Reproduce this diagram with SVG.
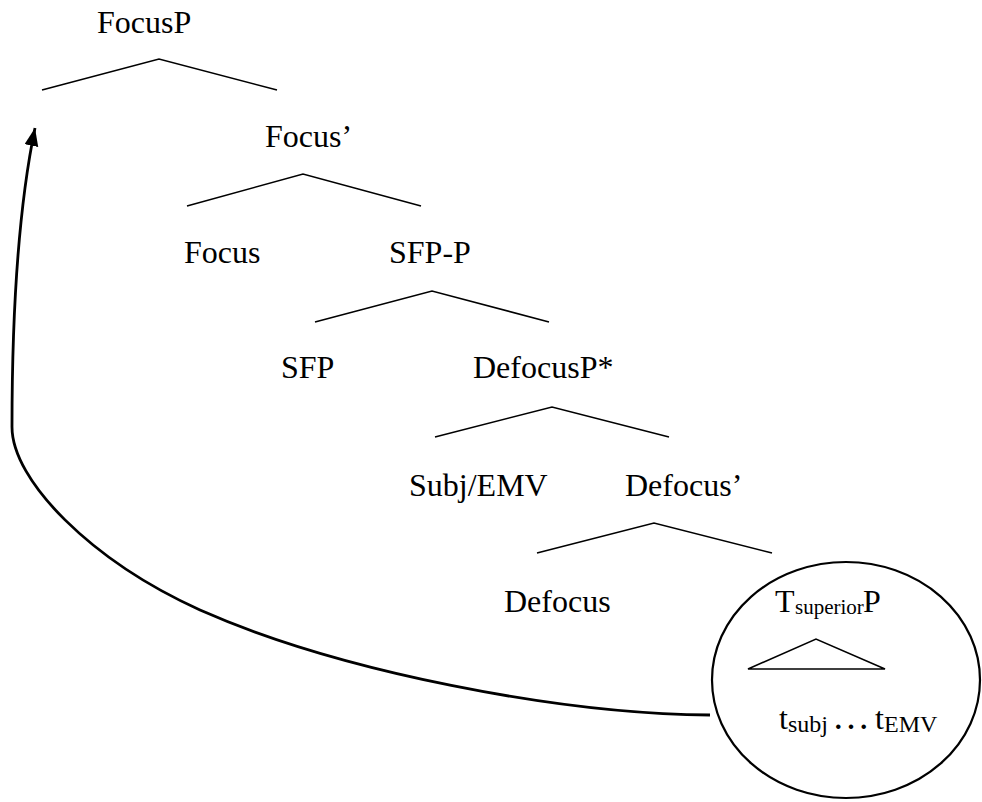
<svg xmlns="http://www.w3.org/2000/svg" width="982" height="802" viewBox="0 0 982 802">
  <style>
    text { font-family: 'Liberation Serif', 'Times New Roman', Times, 'DejaVu Serif', serif; font-size: 32px; fill: #000; }
    .sub { font-size: 21px; }
    .sub2 { font-size: 24px; }
    .dots { font-size: 38px; }
    .branch { fill: none; stroke: #000; stroke-width: 1.6; }
    .move { fill: none; stroke: #000; stroke-width: 2.8; }
    .circle { fill: none; stroke: #000; stroke-width: 2.2; }
  </style>
  <defs>
    <marker id="head" markerUnits="userSpaceOnUse" markerWidth="20" markerHeight="16" refX="18" refY="7" orient="auto">
      <path d="M0,0 L18,7 L0,14 Z" fill="#000"/>
    </marker>
  </defs>
  <rect width="982" height="802" fill="#fff"/>

  <g font-family="Liberation Serif, serif">
  <!-- tree nodes -->
  <g id="focusP">
    <text x="97" y="33">FocusP</text>
    <polyline class="branch" points="42,90 159,59 277,90"/>
  </g>
  <g id="focusBar">
    <text x="265" y="147">Focus’</text>
    <polyline class="branch" points="187,206 303,174 421,206"/>
  </g>
  <g id="focus">
    <text x="184" y="263">Focus</text>
  </g>
  <g id="sfpP">
    <text x="389" y="263">SFP-P</text>
    <polyline class="branch" points="315,322 432,291 549,322"/>
  </g>
  <g id="sfp">
    <text x="281" y="378">SFP</text>
  </g>
  <g id="defocusP">
    <text x="473" y="378">DefocusP*</text>
    <polyline class="branch" points="435,437 552,407 669,437"/>
  </g>
  <g id="subjEMV">
    <text x="409" y="496">Subj/EMV</text>
  </g>
  <g id="defocusBar">
    <text x="625" y="496">Defocus’</text>
    <polyline class="branch" points="537,553 654,523 772,553"/>
  </g>
  <g id="defocus">
    <text x="504" y="612">Defocus</text>
  </g>
  <g id="tSuperiorP">
    <ellipse class="circle" cx="846" cy="680" rx="134" ry="118"/>
    <text x="775" y="612">T<tspan class="sub" x="795" y="614">superior</tspan><tspan x="863" y="612">P</tspan></text>
    <polygon class="branch" points="748,669 816,639 885,669"/>
    <text x="779" y="729">t<tspan class="sub2" x="788" y="732">subj</tspan><tspan class="dots" x="832" y="729">…</tspan><tspan x="875" y="729">t</tspan><tspan class="sub2" x="884" y="732">EMV</tspan></text>
  </g>
  </g>

  <!-- movement connector -->
  <g id="connectors">
    <path class="move" marker-end="url(#head)" d="M710,715 C560,714 340,672 200,610 C90,560 12,480 12,427 C12,330 16,220 35,128"/>
  </g>
</svg>
